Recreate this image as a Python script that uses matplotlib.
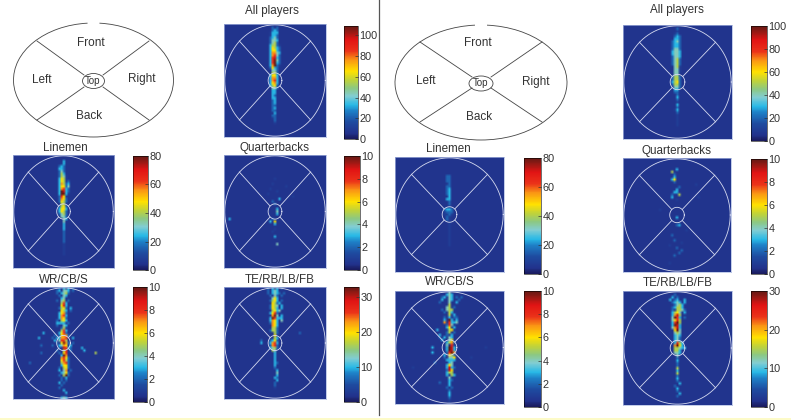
import matplotlib
matplotlib.use("Agg")
import matplotlib.pyplot as plt
import numpy as np
from matplotlib.colors import LinearSegmentedColormap
from matplotlib.patches import Arc, Ellipse, Rectangle

plt.rcParams['font.family'] = ['Liberation Sans', 'DejaVu Sans']

W, H = 791, 420
N = 45
MID = 22

# heat values: each char is tenths of the colorbar range
# ('a' = full range, '.' = background), 13 columns centred on the middle column
all_left = [
    ".............", ".....2.2.....", ".....232.....", "....1333.....", "....1332.....",
    "....2342.....", "....2443.....", "....2452.....", "....35521....", "....36532....",
    "....36632....", "....37743....", "....37842....", "....38932....", "....38a42....",
    "....38a32....", "....37a21....", "....2632.....", ".....442.....", ".....552.....",
    "....3663.....", "....3773.....", "....3783.....", "....3673.....", "....3562.....",
    ".....442.....", ".....33......", ".....33......", ".....32......", ".....33......",
    ".....23......", ".....23......", ".....22......", ".....23......", ".....22......",
    "......3......", ".....22......", ".....12......", "......2......", "......1......",
]
all_right = [
    ".............", "......2......", "......1......", ".....12......", ".....232.....",
    ".....332.....", "....2342.....", "....2332.....", "....2332.....", "....2442.....",
    "....3443.....", "....3443.....", "....2443.....", "....2452.....", "....2452.....",
    "....2452.....", ".....451.....", ".....441.....", ".....441.....", ".....44......",
    "....2552.....", "....2552.....", "....3562.....", "....2552.....", ".....442.....",
    ".....33......", ".....22......", "......2......", "......3......", "......2......",
    "......1......", "......3......", "......2......", ".....13......", "......2......",
    "......1......", "......1......", "......1......", "......1......", "......1......",
]
line_left = [
    ".............", ".............", "......3......", ".....13......", "....232......",
    "....332......", "....242......", "....253......", "....2541.....", "....3651.....",
    "....36512....", "....37523....", "....36624....", "....37832....", "....3a932....",
    "....3aa31....", "....2861.....", "....2762.....", "....2652.....", ".....55......",
    "....2562.....", "....3663.....", "....3652.....", "....2452.....", ".....442.....",
    "......43.....", "......4......", "......3......", "......3......", "......3......",
    "......2......", "......2......", "......2......", "......2......", "......2......",
    "......1......", "......1......", "......1......", "......1......", "......1......",
]
line_right = [
    ".............", ".............", ".............", ".............", ".............",
    ".............", ".............", ".....22......", ".....22......", ".....22......",
    "......2......", ".....22......", ".....23......", ".....23......", ".....23......",
    "......3......", ".....33......", "......2......", "......2......", ".............",
    "....2332.....", "....1222.....", "....1121.....", ".....21......", ".....21......",
    "......1......", "......1......", "......1......", "......1......", "......1......",
    "......1......", "......1......", "......1......", "......1......", "......1......",
]
qb_left = []
qb_right = []
wr_left = [
    "....2.3.3.2..", "...23.443.2..", "...2.3452....", "....2.43.....", ".....34......",
    "...2.45.2....", ".....583.....", ".....693.....", "....2562.3...", ".....653.2...",
    "....3672.....", "....3783.....", "....3762.....", "...2.563.....", "...3333.2....",
    "...2..43.....", ".....25......", ".....583.....", "....3682.....", "..2.26772....",
    ".2.33778..3..", "..3.4885.....", "...2.6a72.2..", ".2..3476.3...", "....2.9832...",
    "...2..58.2...", "....2.68.....", ".....3a7.....", ".....7862....", ".....6852....",
    ".....5782....", ".....3662....", "....2.562....", "....3.47.2...", ".....3462....",
    "....2.5a2....", ".....2.3.....", ".....2.2.....", "....3.2......", ".....2.......",
    "....2........", "......3......", ".......3.....", ".............", ".....343.....",
]
wr_right = [
    "......4......", ".....343.....", "...23.43.2.2.", "...3..43..2..", "..2...4..3...",
    "......5......", ".....45.2....", "...2.455.....", "....2.53.....", "......5.3....",
    "....2.3.22...", "....3.a3.3...", "....7.8334...", ".....284.....", ".....36.3....",
    "......56.....", ".....25.2....", "..3..2.3.....", "..2.3.43.....", "...3..46.....",
    ".....3572....", ".....4.8.....", ".....3a93....", ".....3a93....", ".....28a7....",
    "....3.652....", "....2.446....", ".....3333....", "......34.....", ".....364.....",
    ".....3932....", ".....296.....", ".....355.....", ".....3.53....", "......4......",
    "......32.....", "......3......", "......3......", ".....2.2.....", "......2......",
    "......3......", "......3......", "......2......", "......1......", "......1......",
]
te_left = [
    "...2.3.3.2...", "...2.343.....", "...2.3432.2..", "....2.42.2...", ".....463.....",
    "....2563.2...", ".....6523....", "....2654.3...", "....2653.3...", ".....5634....",
    "....3682.....", ".....7a4.3...", "....3a8333...", "....3763.4...", "....2763.....",
    ".....763.....", ".....552.....", "....2552.....", "......52.....", "......6......",
    "......53.....", "....2362.....", "....3783.....", "....2782.....", "....3452.....",
    ".....54......", "......3......", "......3......", "......3......", "......3......",
    "......32.....", "......3......", "......2......", ".......3.....", ".......4.....",
    ".......3.....", "......32.....", ".......3.....", "......2......", "......2......",
    "......1......",
]
te_right = [
    ".............", ".....2.......", "....3.2......", "...3.23..3...", "....2343.3...",
    ".....2453....", "....23553....", "....2.5542...", "....3564.3...", "....3795.....",
    "....4a83.2...", "....4685.....", "....38a5.....", "....3a93.....", "....4793.....",
    ".....6a4.....", ".....454.....", ".....343.....", ".....342.....", ".....342.....",
    ".....3853....", ".....7a63....", ".....55433...", ".....553.....", ".....443.....",
    "......4......", "......2......", "......3......", "......2......", "......2......",
    "......5......", "......3......", "......5......", "......2......", "......3......",
    "......2......", ".......3.....", ".....2.......", "......3......", "......2......",
    ".......3.....", "......2......",
]

# stray cells outside the strip: (row, column offset from the middle, tenths)
qb_left_dots = [(17, 2, 3), (21, 1, 3), (22, 1, 4), (23, 1, 3), (26, 0, 6), (26, -2, 3), (27, 0, 3),
                (25, -1, 2), (32, 0, 3), (35, 1, 4), (25, -20, 3), (9, 0, 1), (11, -1, 1), (13, -2, 1),
                (14, 1, 1), (15, -3, 1), (12, 5, 1), (16, 8, 1), (18, -1, 2), (19, 0, 2), (29, 0, 1), (30, -1, 1)]
qb_right_dots = [(4, 0, 3), (5, -2, 5), (7, -1, 3), (8, -1, 6), (8, -2, 3), (12, 0, 3), (13, -1, 3), (13, 0, 3),
                 (15, -2, 3), (14, 1, 5), (23, 0, 3), (26, 1, 3), (26, 0, 2), (6, -1, 2), (9, -1, 2), (11, 1, 2),
                 (14, -2, 2), (16, 0, 1), (30, -2, 2), (32, -1, 2), (35, 0, 2), (37, 1, 2), (38, -1, 2), (36, 2, 2),
                 (33, 2, 1), (28, 4, 1), (10, 8, 1), (15, 9, 1), (20, -7, 1), (34, -3, 1), (41, -3, 1)]
wr_left_dots = [(26, 14, 5), (23, -10, 2), (18, -9, 3), (20, -11, 3), (25, 9, 3), (24, 8, 3), (26, -10, 2), (30, -15, 2)]
wr_right_dots = [(24, -7, 3), (22, -7, 3), (28, -6, 2), (30, -15, 1), (22, 15, 1), (15, -5, 3), (26, 9, 1), (36, -4, 2)]
te_left_dots = [(22, -6, 3), (18, 11, 2), (21, -6, 2)]

titles = ["All players", "Linemen", "Quarterbacks", "WR/CB/S", "TE/RB/LB/FB"]
ticks_100 = [0, 20, 40, 60, 80, 100]
ticks_80 = [0, 20, 40, 60, 80]
ticks_10 = [0, 2, 4, 6, 8, 10]
ticks_33 = [0, 10, 20, 30]
ticks_30 = [0, 10, 20, 30]

# (title, rows, dots, vmax, ticks, panel box x0 x1 y0 y1, colorbar box, title position)
panels = [
    (titles[0], all_left, [], 109, ticks_100, (224, 326, 24, 137), (344, 358, 26, 139), (272, 11)),
    (titles[1], line_left, [], 80, ticks_80, (13, 114, 155, 268), (133, 148, 156, 270), (65, 148)),
    (titles[2], qb_left, qb_left_dots, 10, ticks_10, (224, 326, 155, 268), (344, 360, 156, 270), (274, 148)),
    (titles[3], wr_left, wr_left_dots, 10, ticks_10, (13, 114, 287, 399), (133, 147, 287, 402), (64, 280)),
    (titles[4], te_left, te_left_dots, 33, ticks_33, (224, 326, 287, 399), (344, 359, 287, 402), (280, 280)),
    (titles[0], all_right, [], 100, ticks_100, (623, 732, 25, 139), (751, 767, 26, 141), (677, 10)),
    (titles[1], line_right, [], 80, ticks_80, (395, 504, 157, 272), (524, 541, 158, 274), (448, 149)),
    (titles[2], qb_right, qb_right_dots, 10, ticks_10, (623, 731, 158, 272), (751, 767, 159, 274), (677, 151)),
    (titles[3], wr_right, wr_right_dots, 10, ticks_10, (395, 504, 291, 404), (524, 541, 291, 407), (450, 282)),
    (titles[4], te_right, [], 30, ticks_30, (623, 732, 291, 405), (751, 767, 291, 407), (678, 283)),
]

cmap = LinearSegmentedColormap.from_list("jetish", [
    (0.00, (25/255, 25/255, 90/255)), (0.05, (34/255, 50/255, 140/255)), (0.15, (30/255, 75/255, 160/255)),
    (0.25, (30/255, 130/255, 200/255)), (0.30, (40/255, 185/255, 230/255)), (0.38, (130/255, 205/255, 210/255)),
    (0.45, (140/255, 200/255, 130/255)), (0.52, (190/255, 210/255, 60/255)), (0.60, (255/255, 225/255, 0)),
    (0.70, (250/255, 150/255, 20/255)), (0.78, (235/255, 50/255, 25/255)), (0.88, (225/255, 20/255, 20/255)),
    (0.95, (150/255, 25/255, 20/255)), (1.00, (100/255, 25/255, 20/255)),
])


def box_axes(fig, box):
    x0, x1, y0, y1 = box
    return fig.add_axes([x0 / W, 1 - y1 / H, (x1 - x0) / W, (y1 - y0) / H])


def make_grid(rows, dots, vmax):
    grid = np.full((N, N), 0.06)
    for r, row in enumerate(rows):
        for j, ch in enumerate(row):
            if ch != '.':
                grid[r, MID - 6 + j] = 1.0 if ch == 'a' else int(ch) / 10
    for r, c, v in dots:
        grid[r, MID + c] = v / 10
    return grid * vmax


fig = plt.figure(figsize=(W / 100, H / 100), dpi=100, facecolor="white")

# page level drawing in pixel coordinates
page = fig.add_axes([0, 0, 1, 1])
page.set_xlim(0, W)
page.set_ylim(H, 0)
page.axis("off")
page.add_patch(Rectangle((0, 418), W, 2, color="#fdfbc8", lw=0))
page.plot([378.5, 378.5], [0, 415], color="#555555", lw=0.9)


def sketch(cx, cy, rx, ry, in_rx, in_ry, corners, labels):
    page.add_patch(Arc((cx, cy), 2 * rx, 2 * ry, theta1=-84, theta2=264, color="#444444", lw=0.6))
    page.add_patch(Ellipse((cx, cy + 1), 2 * in_rx, 2 * in_ry, fill=False, ec="#444444", lw=0.6))
    for xa, ya, xb, yb in corners:
        page.plot([xa, xb], [ya, yb], color="#444444", lw=0.6)
    for txt, tx, ty, fs in labels:
        page.text(tx, ty, txt, ha="center", va="center", fontsize=fs, color="#333333")


sketch(93.5, 80, 80, 57, 11, 7.5,
       [(37, 41, 84, 75), (149, 41, 103, 75), (37, 120, 84, 87), (149, 120, 103, 87)],
       [("Front", 90.5, 43, 8.5), ("Left", 42, 80, 8.5), ("Right", 141.5, 79, 8.5), ("Back", 89.5, 116, 8.5), ("Top", 92.5, 81.5, 7)])
sketch(481, 82.5, 86, 57.5, 12, 7.5,
       [(420, 42, 472, 77), (542, 42, 491, 77), (420, 122, 472, 88), (542, 122, 491, 88)],
       [("Front", 478, 43, 8.5), ("Left", 426, 81.5, 8.5), ("Right", 536, 81.5, 8.5), ("Back", 479.5, 116.5, 8.5), ("Top", 481, 83, 7)])

angles = np.linspace(0, 2 * np.pi, 200)
line_col = "#d5daf0"
for title, rows, dots, vmax, ticks, box, cbox, tpos in panels:
    ax = box_axes(fig, box)
    im = ax.imshow(make_grid(rows, dots, vmax), cmap=cmap, vmin=0, vmax=vmax, aspect="auto",
                   extent=(-1, 1, -1, 1), interpolation="bilinear", interpolation_stage="rgba")
    ax.plot(0.985 * np.cos(angles), 0.985 * np.sin(angles), color=line_col, lw=0.6)
    ax.plot(0.135 * np.cos(angles), 0.135 * np.sin(angles), color=line_col, lw=0.6)
    for sx in (-1, 1):
        for sy in (-1, 1):
            ax.plot([sx * 0.1, sx * 0.7], [sy * 0.1, sy * 0.7], color=line_col, lw=0.6)
    ax.set_xlim(-1, 1)
    ax.set_ylim(-1, 1)
    ax.set_xticks([])
    ax.set_yticks([])
    for s in ax.spines.values():
        s.set_color("#aab8e0")
        s.set_linewidth(0.5)

    cax = box_axes(fig, cbox)
    cb = fig.colorbar(im, cax=cax)
    cb.set_ticks(ticks)
    cb.ax.tick_params(length=2, width=0.5, direction="in", pad=1, labelsize=7.8, colors="#333333")
    cb.outline.set_linewidth(0.4)

    page.text(tpos[0], tpos[1], title, ha="center", va="center", fontsize=8.4, color="#333333")

fig.savefig("out.png", dpi=100)
